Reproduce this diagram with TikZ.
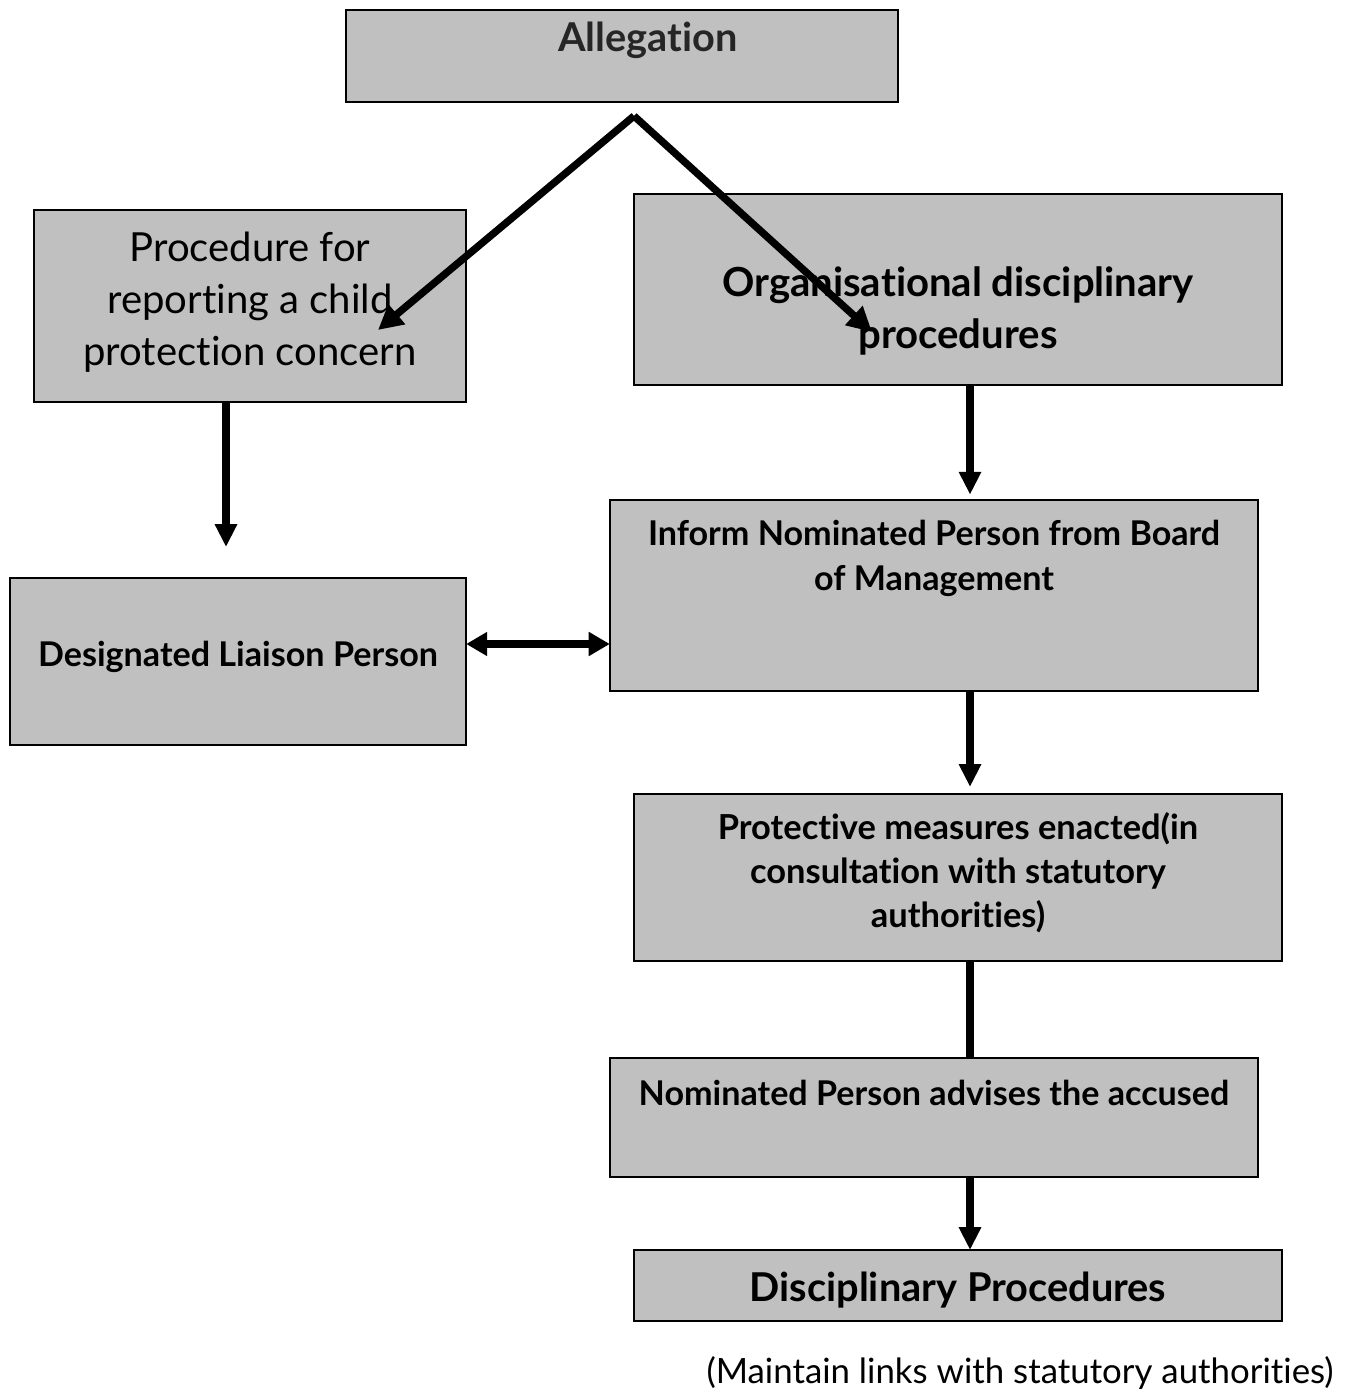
\documentclass[tikz,border=0pt]{standalone}
\usepackage{fontspec}
\setmainfont{Lato}[Ligatures={NoCommon}]
\usetikzlibrary{positioning,arrows.meta}
\definecolor{boxgray}{RGB}{192,192,192}
\begin{document}
\begin{tikzpicture}
  [x=0.01cm,y=-0.01cm,
   box/.style={rectangle,draw,fill=boxgray,line width=0.6pt,inner sep=0pt,outer sep=0pt},
   txt/.style={align=center,inner sep=0pt,font=\fontsize{9.7}{12.8}\selectfont\bfseries},
   flow/.style={line width=2.1pt,-{Triangle[length=6.5pt,width=6pt]}},
   both/.style={line width=2.1pt,{Triangle[length=6pt,width=6.5pt]}-{Triangle[length=6pt,width=6.5pt]}}]
  \useasboundingbox (0,0) rectangle (1354,1392);

  % boxes
  \node[box,minimum width=5.52cm,minimum height=0.92cm] (alleg) at (622,56) {};
  \node[box,minimum width=4.32cm,minimum height=1.92cm] (proc) at (250,306) {};
  \node[box,minimum width=6.48cm,minimum height=1.91cm] (org) at (958,289.5) {};
  \node[box,minimum width=6.48cm,minimum height=1.91cm] (inform) at (934,595.5) {};
  \node[box,minimum width=4.56cm,minimum height=1.67cm] (desig) at (238,661.5) {};
  \node[box,minimum width=6.48cm,minimum height=1.67cm] (prot) at (958,877.5) {};
  \node[box,minimum width=6.48cm,minimum height=1.19cm] (nom) at (934,1117.5) {};
  \node[box,minimum width=6.48cm,minimum height=0.71cm] (disc) at (958,1285.5) {};

  % texts
  \node[txt,font=\fontsize{11.3}{13}\selectfont\bfseries,text=black!85] (allegtxt) at (648,40) {Allegation};
  \node[txt,font=\fontsize{11.4}{14.7}\selectfont] (proctxt) at (250,302) {Procedure for\\reporting a child\\protection concern};
  \node[txt,font=\fontsize{11.4}{14.7}\selectfont\bfseries] (orgtxt) at (958,311) {Organisational disciplinary\\procedures};
  \node[txt] (informtxt) at (934,558) {Inform Nominated Person from Board\\of Management};
  \node[txt] (desigtxt) at (238,657) {Designated Liaison Person};
  \node[txt,font=\fontsize{9.8}{12.5}\selectfont\bfseries] (prottxt) at (958,873) {Protective measures enacted(in\\consultation with statutory\\authorities)};
  \node[txt] (nomtxt) at (934,1093) {Nominated Person advises the accused};
  \node[txt,font=\fontsize{11.3}{13}\selectfont\bfseries] (disctxt) at (958,1290) {Disciplinary Procedures};
  \node[txt,font=\fontsize{9.9}{12}\selectfont] (note) at (1020,1373) {(Maintain links with statutory authorities)};

  % connectors
  \coordinate (split) at (634,116);
  \coordinate (procend) at (378,330);
  \coordinate (orgend) at (872,332);
  \coordinate (desigend) at (226,547);
  \draw[flow,-{Triangle[length=7pt,width=7pt]}] (split) -- (procend);
  \draw[flow,-{Triangle[length=7pt,width=7pt]}] (split) -- (orgend);
  \draw[flow] (proc.south -| desigend) -- (desigend);
  \draw[flow,shorten >=1.5pt] (org.south -| 970,0) -- (inform.north -| 970,0);
  \draw[both] (desig.east |- 0,644) -- (inform.west |- 0,644);
  \draw[flow,shorten >=2pt] (inform.south -| 970,0) -- (prot.north -| 970,0);
  \draw[line width=2.1pt] (prot.south -| 970,0) -- (nom.north -| 970,0);
  \draw[flow] (nom.south -| 970,0) -- (disc.north -| 970,0);
\end{tikzpicture}
\end{document}
